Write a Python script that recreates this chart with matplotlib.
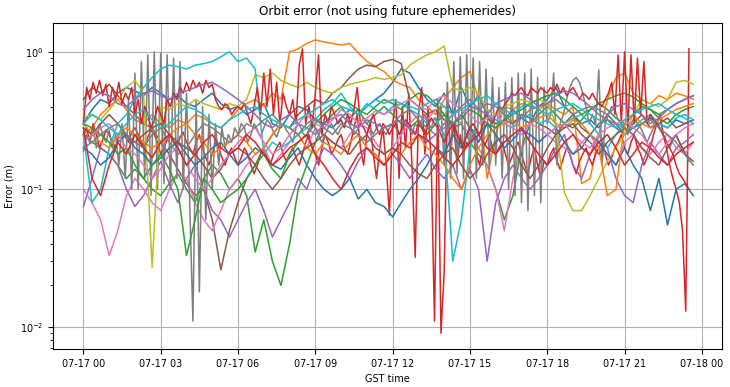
import matplotlib
matplotlib.use("Agg")
import matplotlib.pyplot as plt
import matplotlib.dates as mdates
import numpy as np
import pandas as pd

# start of the day (GST)
day0 = pd.Timestamp("2023-07-17 00:00")

# slow series: one value every 20 minutes, starting at 00:00
slow_step_h = 1 / 3
blue_a = [.30, .38, .45, .42, .50, .55, .52, .48, .55, .50, .45, .48, .42, .40, .45, .50, .42, .38,
          .40, .35, .38, .42, .30, .28, .35, .40, .38, .32, .30, .28, .33, .38, .35, .40, .45, .50,
          .60, .75, .70, .55, .45, .40, .50, .35, .55, .40, .48, .35, .30, .32, .38, .33, .30, .40,
          .45, .55, .40, .35, .30, .32, .28, .35, .30, .25, .28, .30, .33, .30, .28, .32, .30, .32]
orange_a = [.25, .28, .35, .40, .45, .38, .32, .30, .35, .30, .28, .32, .30, .35, .33, .30, .28, .32,
            .38, .42, .45, .40, .50, .45, 1.0, 1.05, 1.15, 1.22, 1.18, 1.15, 1.12, 1.15, .98, .85, .78, .72,
            .62, .58, .55, .45, .40, .35, .45, .55, .65, .72, .45, .12, .25, .40, .38, .42, .40, .38,
            .42, .38, .35, .40, .11, .12, .25, .45, .65, .70, .50, .45, .42, .48, .45, .50, .48, .45]
green_a = [.25, .22, .20, .18, .15, .12, .14, .12, .10, .09, .11, .13, .10, .08, .12, .15, .13, .10,
           .12, .09, .035, .06, .03, .02, .04, .10, .15, .22, .30, .35, .40, .33, .38, .30, .35, .40,
           .35, .30, .28, .32, .25, .30, .35, .28, .30, .22, .18, .15, .10, .06, .09, .20, .30, .35,
           .40, .35, .30, .28, .32, .38, .42, .38, .33, .30, .35, .40, .38, .33, .30, .35, .38, .40]
red_c = [.28, .12, .09, .15, .22, .18, .25, .20, .17, .22, .25, .20, .15, .18, .22, .25, .20, .18,
         .20, .25, .22, .18, .15, .17, .20, .22, .25, .18, .15, .12, .10, .14, .18, .20, .17, .15,
         .18, .22, .20, .25, .23, .20, .17, .15, .18, .22, .25, .20, .18, .22, .25, .28, .22, .18,
         .15, .18, .22, .25, .20, .18, .22, .25, .20, .15, .18, .22, .20, .17, .15, .18, .20, .22]
purple_a = [.075, .12, .20, .18, .15, .10, .075, .09, .12, .16, .11, .08, .12, .15, .10, .07, .06, .045,
            .06, .08, .10, .07, .045, .06, .08, .12, .10, .15, .20, .18, .15, .12, .16, .20, .18, .15,
            .18, .15, .12, .15, .18, .14, .12, .15, .10, .14, .10, .03, .08, .12, .15, .12, .10, .12,
            .15, .20, .25, .15, .12, .18, .25, .20, .12, .09, .08, .15, .22, .18, .15, .20, .22, .25]
brown_a = [.45, .55, .50, .58, .48, .40, .35, .30, .28, .22, .18, .14, .11, .09, .10, .06, .026, .05,
           .08, .12, .15, .20, .25, .30, .28, .35, .40, .45, .42, .50, .55, .65, .75, .80, .78, .85,
           .88, .82, .45, .40, .35, .38, .32, .30, .35, .28, .25, .30, .28, .32, .30, .35, .33, .30,
           .28, .25, .30, .35, .28, .25, .30, .32, .28, .25, .30, .35, .28, .30, .33, .28, .30, .32]
pink_a = [.10, .08, .06, .033, .05, .09, .12, .10, .08, .07, .10, .13, .12, .08, .06, .05, .07, .10,
          .12, .15, .18, .20, .15, .18, .22, .25, .20, .28, .25, .22, .20, .25, .30, .28, .22, .18,
          .20, .25, .30, .35, .32, .38, .40, .35, .30, .25, .20, .15, .10, .05, .12, .20, .25, .22,
          .25, .22, .20, .18, .22, .25, .20, .18, .15, .22, .25, .20, .18, .22, .25, .20, .18, .22]
gray_b = [.20, .22, .25, .28, .30, .25, .22, .20, .25, .28, .22, .18, .20, .25, .30, .28, .25, .22,
          .25, .30, .28, .32, .35, .30, .28, .25, .30, .33, .28, .25, .30, .28, .25, .22, .25, .28,
          .30, .35, .38, .32, .28, .25, .30, .35, .40, .45, .38, .42, .40, .35, .30, .33, .38, .40,
          .42, .45, .40, .35, .38, .40, .35, .32, .30, .28, .25, .30, .32, .28, .25, .22, .18, .15]
olive = [.33, .35, .32, .38, .45, .55, .62, .50, .027, .40, .38, .42, .40, .45, .42, .40, .38, .42,
         .40, .45, .68, .65, .70, .62, .58, .55, .60, .55, .52, .50, .55, .58, .60, .62, .65, .63,
         .65, .68, .80, .88, .95, 1.0, 1.1, .55, .52, .55, .50, .38, .35, .40, .42, .45, .43, .45,
         .42, .30, .094, .07, .07, .09, .12, .16, .20, .25, .35, .45, .42, .40, .45, .60, .62, .58]
cyan_a = [.25, .08, .10, .20, .30, .35, .45, .55, .65, .75, .80, .78, .75, .80, .82, .85, .92, 1.0,
          .85, .90, .75, .18, .22, .20, .22, .25, .28, .32, .38, .42, .50, .40, .35, .42, .38, .35,
          .40, .42, .38, .35, .30, .33, .25, .03, .06, .20, .30, .35, .32, .30, .28, .33, .35, .30,
          .32, .28, .30, .33, .35, .30, .25, .20, .25, .30, .28, .32, .35, .30, .28, .33, .35, .32]
blue_b = [.20, .18, .15, .17, .22, .25, .20, .18, .15, .17, .20, .22, .18, .15, .17, .20, .22, .18,
          .15, .17, .20, .18, .15, .14, .17, .20, .15, .12, .10, .09, .10, .12, .085, .10, .08, .075,
          .063, .08, .10, .12, .15, .20, .18, .25, .20, .28, .22, .30, .25, .20, .23, .27, .25, .22,
          .25, .28, .22, .18, .20, .25, .22, .18, .15, .20, .15, .12, .07, .12, .055, .10, .11, .09]
orange_b = [.30, .25, .22, .20, .25, .28, .25, .22, .20, .22, .25, .28, .30, .25, .22, .18, .20, .22,
            .25, .22, .18, .20, .25, .30, .28, .25, .20, .18, .22, .20, .18, .22, .25, .20, .18, .15,
            .20, .18, .22, .25, .20, .18, .15, .12, .10, .15, .20, .25, .28, .30, .32, .28, .30, .33,
            .35, .30, .28, .32, .30, .25, .20, .09, .10, .30, .35, .30, .28, .32, .35, .38, .40, .42]
green_b = [.30, .28, .25, .22, .18, .20, .15, .12, .15, .18, .14, .10, .033, .06, .12, .10, .08, .09,
           .10, .12, .15, .18, .14, .12, .18, .22, .25, .30, .35, .40, .45, .42, .38, .35, .40, .45,
           .42, .38, .45, .50, .48, .42, .35, .30, .33, .38, .35, .30, .28, .32, .35, .38, .42, .45,
           .48, .50, .45, .40, .35, .38, .42, .45, .48, .50, .47, .42, .38, .35, .38, .42, .45, .48]
purple_b = [.38, .45, .50, .48, .42, .40, .45, .50, .52, .48, .45, .50, .52, .55, .58, .60, .55, .50,
            .45, .40, .35, .30, .28, .32, .35, .30, .28, .25, .30, .33, .35, .30, .28, .32, .30, .28,
            .30, .32, .28, .25, .22, .25, .28, .30, .35, .40, .38, .35, .42, .45, .48, .50, .45, .40,
            .42, .48, .52, .50, .45, .40, .38, .35, .40, .42, .38, .35, .30, .33, .38, .42, .45, .48]
brown_b = [.28, .25, .30, .35, .30, .25, .22, .25, .28, .30, .25, .22, .20, .18, .15, .12, .14, .18,
           .20, .18, .15, .12, .10, .12, .15, .18, .20, .22, .25, .22, .20, .18, .22, .25, .20, .18,
           .20, .18, .15, .13, .12, .15, .18, .20, .15, .12, .14, .18, .22, .25, .20, .15, .12, .15,
           .20, .25, .28, .30, .25, .22, .18, .22, .25, .28, .25, .20, .17, .15, .20, .25, .18, .16]
pink_b = [.22, .25, .28, .30, .25, .20, .18, .15, .12, .14, .18, .20, .15, .12, .10, .12, .15, .18,
          .22, .25, .28, .22, .18, .20, .25, .30, .35, .30, .28, .32, .38, .35, .30, .33, .37, .35,
          .38, .42, .45, .40, .38, .45, .48, .42, .38, .35, .30, .33, .35, .30, .28, .25, .30, .28,
          .25, .28, .30, .25, .22, .20, .25, .28, .30, .32, .28, .25, .20, .18, .22, .25, .28, .30]
cyan_b = [.30, .35, .32, .28, .25, .30, .35, .38, .32, .28, .30, .35, .40, .38, .35, .30, .28, .32,
          .35, .38, .40, .35, .32, .30, .28, .32, .35, .38, .42, .45, .40, .38, .35, .40, .45, .42,
          .45, .42, .40, .38, .42, .45, .40, .35, .38, .42, .45, .48, .42, .38, .35, .40, .42, .38,
          .35, .38, .40, .42, .38, .35, .32, .30, .28, .32, .35, .38, .40, .42, .38, .35, .33, .30]

# fast series: one value every 7.5 minutes (these ones oscillate a lot)
fast_step_h = 1 / 8
gray_a = [.19, .25, .22, .28, .20, .30, .25, .22, .27, .20, .25, .15, .30, .12, .45, .10,
          .70, .10, .85, .12, .95, .09, 1.0, .10, .98, .11, .95, .10, .90, .12, .85, .10,
          .50, .08, .011, .45, .018, .40, .06, .35, .10, .30, .15, .28, .20, .25, .22, .28,
          .25, .30, .28, .22, .25, .30, .27, .24, .28, .32, .30, .26, .24, .28, .30, .27,
          .25, .22, .28, .30, .26, .24, .27, .30, .28, .25, .22, .25, .28, .30, .27, .25,
          .28, .30, .32, .28, .25, .27, .30, .33, .30, .28, .25, .28, .30, .27, .25, .28,
          .30, .28, .25, .27, .30, .28, .25, .30, .28, .32, .35, .30, .28, .33, .30, .40,
          .15, .60, .12, .85, .13, .92, .12, .95, .13, .90, .12, .85, .15, .75, .14, .65,
          .15, .55, .12, .60, .10, .65, .09, .70, .08, .70, .07, .75, .09, .65, .08, .55,
          .30, .35, .70, .15, .30, .35, .45, .55, .62, .65, .60, .50, .40, .30, .35, .30,
          .74, .15, .30, .35, .40, .38, .32, .30, .28, .25, .30, .33, .30, .28, .25, .22,
          .25, .28, .30, .27, .25, .22, .20, .23, .25, .22, .20, .18, .16]
red_a = [.25, .28, .22, .30, .25, .20, .23, .27, .25, .22, .20, .25, .28, .24, .22, .26,
         .28, .25, .22, .20, .24, .27, .25, .22, .18, .20, .23, .25, .22, .20, .24, .26,
         .22, .20, .18, .22, .25, .20, .17, .15, .18, .22, .20, .17, .15, .18, .20, .17,
         .15, .17, .20, .18, .15, .13, .15, .18, .20, .17, .15, .18, .20, .22, .18, .16,
         .18, .20, .17, .15, .18, .22, .25, .20, .18, .15, .20, .25, .22, .18, .20, .23,
         .25, .20, .18, .22, .28, .35, .20, .15, .25, .30, .18, .12, .20, .28, .15, .065,
         .30, .45, .12, .40, .20, .50, .15, .032, .35, .55, .18, .40, .15, .011, .45, .009,
         .025, .40, .20, .30, .15, .25, .18, .22, .20, .25, .18, .15, .20, .22, .25, .20,
         .18, .20, .22, .18, .15, .17, .20, .22, .18, .15, .13, .17, .20, .15, .12, .16,
         .15, .18, .20, .16, .14, .17, .20, .18, .15, .13, .16, .18, .20, .17, .15, .18,
         .20, .22, .18, .15, .17, .20, .22, .25, .20, .18, .22, .25, .20, .18, .15, .17,
         .20, .25, .30, .35, .25, .20, .15, .12, .10, .08, .05, .013, 1.05]
red_b = [.30, .55, .45, .60, .50, .62, .48, .58, .40, .55, .45, .60, .42, .50, .45, .55,
         .35, .45, .30, .40, .35, .28, .32, .40, .35, .30, .45, .40, .50, .45, .55, .50,
         .60, .52, .62, .55, .60, .50, .62, .55, .58, .45, .40, .38, .42, .40, .35, .38,
         .40, .38, .42, .35, .30, .40, .55, .35, .70, .40, .75, .35, .60, .30, .50, .40,
         .35, .45, .30, .80, 1.05, .30, .40, .28, .50, .95, .25, .35, .30, .40, .35, .30,
         .32, .28, .35, .30, .38, .55, .30, .28, .25, .30, .35, .28, .25, .30, .28, .25,
         .28, .30, .25, .28, .32, .30, .27, .25, .30, .28, .25, .30, .33, .30, .28, .25,
         .22, .25, .28, .30, .25, .22, .20, .25, .28, .30, .27, .25, .30, .35, .32, .30,
         .35, .40, .38, .42, .45, .50, .48, .52, .55, .50, .48, .55, .52, .50, .55, .52,
         .50, .55, .52, .58, .50, .55, .48, .52, .55, .50, .45, .50, .48, .45, .50, .45,
         .42, .40, .45, .50, .60, .35, .95, .30, 1.0, .28, .95, .30, .90, .35, .85, .30,
         .35, .32, .30, .28, .25, .22, .20, .18, .15, .13, .12, .11, .10]

# (values, step in hours, colour) in drawing order
series = [
    (blue_a, slow_step_h, "C0"), (orange_a, slow_step_h, "C1"), (green_a, slow_step_h, "C2"),
    (red_a, fast_step_h, "C3"), (purple_a, slow_step_h, "C4"), (brown_a, slow_step_h, "C5"),
    (pink_a, slow_step_h, "C6"), (gray_a, fast_step_h, "C7"), (olive, slow_step_h, "C8"),
    (cyan_a, slow_step_h, "C9"), (blue_b, slow_step_h, "C0"), (orange_b, slow_step_h, "C1"),
    (green_b, slow_step_h, "C2"), (red_b, fast_step_h, "C3"), (purple_b, slow_step_h, "C4"),
    (brown_b, slow_step_h, "C5"), (pink_b, slow_step_h, "C6"), (gray_b, slow_step_h, "C7"),
    (red_c, slow_step_h, "C3"), (cyan_b, slow_step_h, "C9"),
]

fig = plt.figure(figsize=(7.3, 3.87), dpi=100)
ax = fig.add_axes([0.0726, 0.0982, 0.9164, 0.8424])

for vals, step, col in series:
    t = day0 + pd.to_timedelta(np.arange(len(vals)) * step, unit="h")
    ax.plot(t, vals, color=col, linewidth=1.1)

ax.set_yscale("log")
ax.set_ylim(0.0069, 1.62)
ax.set_xlim(day0 - pd.Timedelta(hours=1.18), day0 + pd.Timedelta(hours=24.78))
ax.xaxis.set_major_locator(mdates.HourLocator(byhour=range(0, 24, 3)))
ax.xaxis.set_major_formatter(mdates.DateFormatter("%m-%d %H"))
ax.tick_params(labelsize=6.9)
ax.grid(True)

ax.set_title("Orbit error (not using future ephemerides)", fontsize=8.7)
ax.set_xlabel("GST time", fontsize=7)
ax.set_ylabel("Error (m)", fontsize=7)

fig.savefig("out.png", dpi=100)
